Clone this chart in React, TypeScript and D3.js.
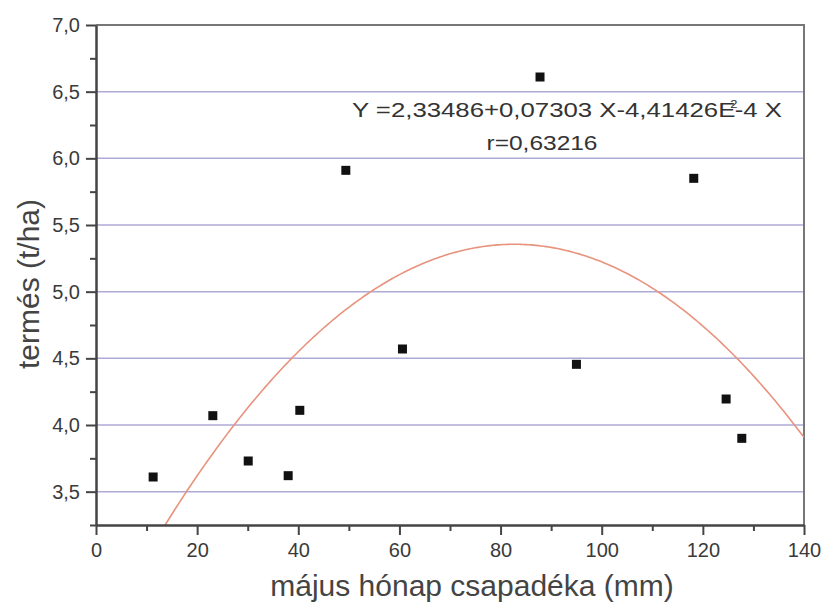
import React, { useEffect, useRef } from "react";
import * as d3 from "d3";

// rainfall in May (mm) and yield (t/ha)
const rainfall = [11.3, 23.1, 30.1, 38.0, 40.3, 49.4, 60.6, 87.8, 95.0, 118.2, 124.6, 127.7];
const yieldTha = [3.61, 4.07, 3.73, 3.62, 4.11, 5.91, 4.57, 6.61, 4.455, 5.85, 4.195, 3.9];

// printed regression coefficients
const coefA = 2.33486;
const coefB = 0.07303;
const coefC = -4.41426e-4;

const xTicks = [0, 20, 40, 60, 80, 100, 120, 140];
const yTicks = [3.5, 4.0, 4.5, 5.0, 5.5, 6.0, 6.5, 7.0];

const W = 824;
const H = 603;
const margin = { top: 25, right: 20, bottom: 80, left: 96 };

const App = () => {
  const ref = useRef(null);

  useEffect(() => {
    const svg = d3.select(ref.current);
    svg.selectAll("*").remove();

    const x = d3.scaleLinear().domain([0, 140]).range([margin.left, W - margin.right]);
    const y = d3.scaleLinear().domain([3.25, 7.0]).range([H - margin.bottom + 2, margin.top]);
    const fmt = (v) => d3.format(".1f")(v).replace(".", ",");
    const font = "'Liberation Sans', Arial, sans-serif";
    const isMajorY = (d) => yTicks.some((t) => Math.abs(t - d) < 1e-6);

    svg.append("rect").attr("width", W).attr("height", H).attr("fill", "#fff");

    svg
      .append("clipPath")
      .attr("id", "plotclip")
      .append("rect")
      .attr("x", x(0))
      .attr("y", y(7))
      .attr("width", x(140) - x(0))
      .attr("height", y(3.25) - y(7));

    // grid lines
    svg
      .append("g")
      .selectAll("line")
      .data(yTicks.filter((d) => d < 7))
      .join("line")
      .attr("x1", x(0))
      .attr("x2", x(140))
      .attr("y1", (d) => y(d))
      .attr("y2", (d) => y(d))
      .attr("stroke", "#aeaad6")
      .attr("stroke-width", 1.5);

    // frame top and right
    svg
      .append("path")
      .attr("d", `M${x(0)},${y(7)}H${x(140)}V${y(3.25)}`)
      .attr("fill", "none")
      .attr("stroke", "#777")
      .attr("stroke-width", 2);

    // fitted curve
    const fitX = d3.range(0, 140.5, 0.5);
    const line = d3
      .line()
      .x((d) => x(d))
      .y((d) => y(coefA + coefB * d + coefC * d * d));
    svg
      .append("path")
      .datum(fitX)
      .attr("clip-path", "url(#plotclip)")
      .attr("fill", "none")
      .attr("stroke", "#e8937e")
      .attr("stroke-width", 1.6)
      .attr("d", line);

    // axes
    const xAxis = svg
      .append("g")
      .attr("transform", `translate(0,${y(3.25)})`)
      .call(
        d3
          .axisBottom(x)
          .tickValues(d3.range(0, 141, 10))
          .tickSizeInner(10)
          .tickSizeOuter(0)
          .tickPadding(8)
          .tickFormat((d) => (xTicks.includes(d) ? d3.format("d")(d) : ""))
      );
    xAxis.select(".domain").attr("stroke", "#444").attr("stroke-width", 2.5);
    xAxis
      .selectAll(".tick line")
      .attr("stroke", "#444")
      .attr("stroke-width", 2)
      .attr("y2", (d) => (xTicks.includes(d) ? 10 : 6));
    xAxis
      .selectAll(".tick text")
      .attr("fill", "#3a3a3a")
      .attr("font-size", 20)
      .attr("font-family", font);

    const yAxis = svg
      .append("g")
      .attr("transform", `translate(${x(0)},0)`)
      .call(
        d3
          .axisLeft(y)
          .tickValues(d3.range(3.25, 7.01, 0.25))
          .tickSizeInner(10)
          .tickSizeOuter(0)
          .tickPadding(6)
          .tickFormat((d) => (isMajorY(d) ? fmt(d) : ""))
      );
    yAxis.select(".domain").attr("stroke", "#444").attr("stroke-width", 2.5);
    yAxis
      .selectAll(".tick line")
      .attr("stroke", "#444")
      .attr("stroke-width", 2)
      .attr("x2", (d) => (isMajorY(d) ? -10 : -6));
    yAxis
      .selectAll(".tick text")
      .attr("fill", "#3a3a3a")
      .attr("font-size", 20)
      .attr("font-family", font);

    // points
    svg
      .append("g")
      .selectAll("rect")
      .data(rainfall)
      .join("rect")
      .attr("x", (d) => x(d) - 4.5)
      .attr("y", (d, i) => y(yieldTha[i]) - 4.5)
      .attr("width", 9)
      .attr("height", 9)
      .attr("fill", "#111");

    // equation (superscript 2 sits over the E as in the original)
    const eq = svg
      .append("text")
      .attr("x", 352)
      .attr("y", 117)
      .attr("font-family", font)
      .attr("font-size", 20)
      .attr("fill", "#333")
      .attr("textLength", 430)
      .attr("lengthAdjust", "spacingAndGlyphs");
    eq.append("tspan").text("Y =2,33486+0,07303 X-4,41426E");
    eq.append("tspan").attr("dx", -4).attr("dy", -9).attr("font-size", 10).text("2");
    eq.append("tspan").attr("dx", -2).attr("dy", 9).text("-4 X");
    svg
      .append("text")
      .attr("x", 542)
      .attr("y", 150)
      .attr("text-anchor", "middle")
      .attr("font-family", font)
      .attr("font-size", 20)
      .attr("fill", "#333")
      .attr("textLength", 111)
      .attr("lengthAdjust", "spacingAndGlyphs")
      .text("r=0,63216");

    // axis titles
    svg
      .append("text")
      .attr("x", 472)
      .attr("y", 596)
      .attr("text-anchor", "middle")
      .attr("font-family", font)
      .attr("font-size", 30)
      .attr("fill", "#444")
      .text("május hónap csapadéka (mm)");
    svg
      .append("text")
      .attr("transform", `translate(39,284) rotate(-90)`)
      .attr("text-anchor", "middle")
      .attr("font-family", font)
      .attr("font-size", 30)
      .attr("fill", "#444")
      .text("termés (t/ha)");
  }, []);

  return (
    <svg
      ref={ref}
      width={W}
      height={H}
      style={{ position: "absolute", left: 0, top: 0, display: "block" }}
    ></svg>
  );
};

export default App;
